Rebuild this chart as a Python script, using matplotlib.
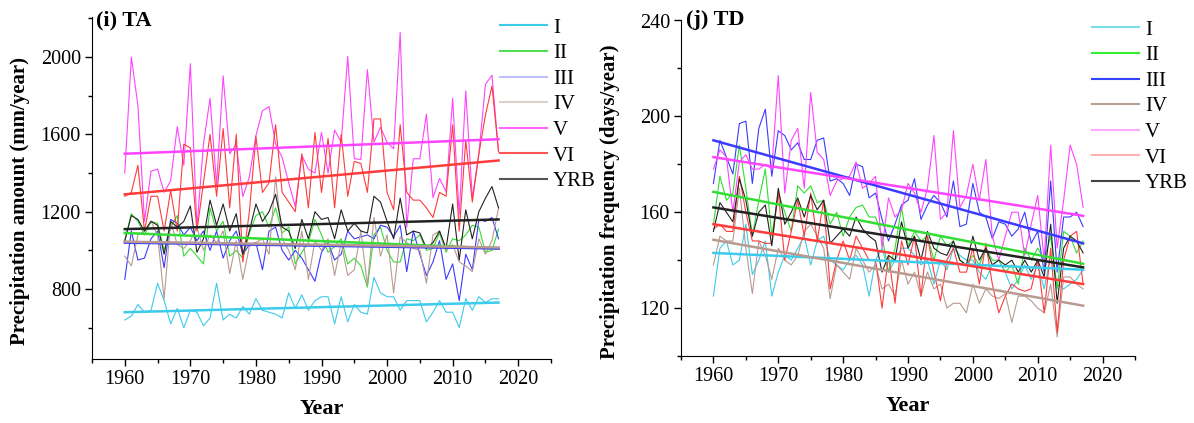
import numpy as np
import matplotlib.pyplot as plt
from matplotlib.lines import Line2D
from matplotlib.ticker import MultipleLocator

plt.rcParams['font.family'] = ['Liberation Serif', 'DejaVu Serif']

years = np.arange(1960, 2018)
regions = ['I', 'II', 'III', 'IV', 'V', 'VI', 'YRB']

# annual precipitation amount (mm/year)
ta_I = [640, 660, 720, 680, 690, 830, 740, 620, 700, 600, 690, 680, 610, 650, 830, 640, 670, 650, 710, 670,
        750, 690, 680, 670, 650, 780, 700, 770, 690, 740, 760, 760, 620, 760, 630, 720, 680, 670, 860, 780,
        760, 760, 690, 740, 740, 740, 630, 680, 740, 680, 680, 600, 750, 690, 760, 730, 750, 750]
ta_II = [1050, 1190, 1150, 1080, 1150, 1140, 1000, 1120, 1180, 970, 1010, 970, 930, 1220, 1100, 1150, 970, 1000,
         960, 1090, 1180, 1200, 1120, 1220, 1090, 1120, 930, 990, 1040, 1160, 1080, 990, 1020, 1060, 930, 960,
         920, 810, 1080, 1120, 1000, 940, 940, 1060, 1050, 1080, 1000, 1010, 1090, 990, 1060, 1050, 1080, 1130,
         1120, 990, 1000, 1110]
ta_III = [850, 1100, 950, 960, 1060, 1100, 910, 1160, 1140, 1080, 1120, 1050, 1100, 1000, 1100, 960, 1050, 1100,
          980, 1030, 1040, 900, 1100, 1120, 1000, 950, 1000, 960, 900, 840, 990, 1040, 950, 980, 1100, 1060,
          1070, 1080, 1060, 1130, 1120, 1070, 1130, 890, 1100, 980, 870, 940, 1050, 850, 930, 740, 980, 900,
          1160, 1150, 1170, 1060]
ta_IV = [970, 920, 1080, 1100, 1150, 1080, 750, 1150, 1030, 1010, 1050, 1120, 1000, 1080, 1040, 1100, 880, 1050,
         850, 1020, 1040, 1060, 980, 1380, 1060, 1000, 900, 1100, 850, 1050, 1000, 1060, 870, 1040, 870, 900,
         1100, 820, 1170, 970, 1080, 780, 1070, 1040, 1010, 1000, 830, 1080, 1100, 1000, 1030, 940, 920, 890,
         1060, 980, 1050, 1220]
ta_V = [1400, 2000, 1750, 1150, 1410, 1420, 1300, 1360, 1640, 1440, 1966, 1116, 1550, 1787, 1338, 1903, 1500,
        1550, 1278, 1380, 1594, 1722, 1744, 1550, 1480, 1350, 1227, 1492, 1420, 1400, 1610, 1400, 1623, 1560,
        2003, 1474, 1470, 1935, 1560, 1637, 1560, 1526, 2128, 1120, 1474, 1474, 1705, 1273, 1372, 1304, 1787,
        1184, 1825, 1270, 1500, 1859, 1906, 1510]
ta_VI = [1280, 1300, 1440, 1100, 1280, 1280, 1100, 1310, 1100, 1550, 1530, 1100, 1350, 1600, 1280, 1630, 1220,
         1600, 940, 1200, 1590, 1300, 1350, 1650, 1300, 1250, 1200, 1500, 1220, 1610, 1300, 1580, 1220, 1600,
         1280, 1460, 1450, 1300, 1680, 1680, 1300, 1210, 1650, 1300, 1260, 1260, 1220, 1170, 1300, 1280, 1650,
         1100, 1570, 1250, 1500, 1700, 1850, 1510]
ta_YRB = [1050, 1180, 1160, 1100, 1150, 1130, 980, 1150, 1120, 1150, 1230, 990, 1060, 1260, 1130, 1240, 1100,
          1190, 980, 1100, 1240, 1150, 1200, 1290, 1120, 1100, 1010, 1160, 1060, 1200, 1160, 1170, 1060, 1210,
          1100, 1140, 1100, 1090, 1280, 1250, 1150, 1060, 1270, 1080, 1100, 1090, 1010, 1040, 1100, 1010, 1240,
          950, 1210, 1060, 1200, 1270, 1330, 1220]
# linear trend values at 1960 and 2017
ta_trend_start = [680, 1090, 1040, 1045, 1500, 1290, 1110]
ta_trend_end = [730, 1010, 1010, 1015, 1575, 1465, 1160]

# annual precipitation frequency (days/year)
td_I = [125, 145, 148, 138, 140, 155, 134, 140, 148, 125, 135, 142, 140, 145, 150, 138, 148, 150, 140, 138,
        136, 140, 142, 138, 125, 140, 145, 135, 140, 145, 145, 142, 138, 140, 130, 140, 136, 145, 142, 140,
        140, 135, 132, 138, 140, 135, 128, 132, 138, 132, 138, 128, 142, 130, 128, 130, 132, 136]
td_II = [155, 175, 165, 168, 188, 170, 150, 165, 178, 150, 168, 160, 152, 171, 168, 171, 164, 165, 155, 160,
         150, 158, 162, 163, 158, 158, 150, 135, 145, 162, 146, 152, 148, 150, 140, 150, 146, 148, 140, 138,
         142, 138, 145, 140, 140, 135, 138, 130, 145, 140, 145, 140, 150, 128, 152, 150, 143, 148]
td_III = [172, 190, 183, 176, 197, 198, 172, 195, 203, 175, 194, 192, 186, 189, 182, 182, 190, 191, 173, 174,
          172, 167, 180, 179, 166, 168, 157, 148, 155, 163, 165, 174, 157, 163, 167, 164, 158, 173, 154, 155,
          172, 160, 158, 149, 156, 155, 150, 153, 160, 147, 152, 135, 173, 135, 158, 158, 160, 154]
td_IV = [138, 150, 148, 148, 170, 145, 126, 148, 142, 132, 145, 140, 138, 142, 152, 155, 150, 145, 124, 138,
         135, 132, 145, 140, 135, 138, 128, 130, 125, 140, 130, 135, 125, 135, 128, 130, 120, 122, 122, 118,
         130, 122, 128, 125, 124, 126, 114, 125, 125, 123, 120, 118, 130, 108, 133, 133, 130, 128]
td_V = [178, 186, 183, 160, 181, 184, 178, 178, 180, 178, 217, 168, 190, 195, 170, 210, 185, 182, 167, 173,
        174, 175, 181, 170, 172, 175, 145, 166, 158, 161, 172, 168, 160, 170, 192, 157, 160, 194, 162, 167,
        180, 165, 182, 150, 140, 150, 160, 160, 142, 155, 167, 140, 188, 145, 165, 188, 180, 162]
td_VI = [153, 155, 152, 152, 175, 160, 148, 148, 147, 147, 168, 140, 152, 165, 150, 168, 148, 165, 128, 140,
         148, 140, 150, 145, 140, 140, 120, 142, 122, 148, 138, 150, 125, 150, 135, 123, 140, 145, 135, 135,
         145, 130, 147, 130, 118, 125, 130, 128, 127, 128, 140, 118, 145, 110, 140, 150, 152, 130]
td_YRB = [152, 164, 160, 156, 174, 165, 150, 160, 163, 146, 170, 155, 160, 166, 158, 167, 161, 165, 147, 150,
          153, 150, 158, 153, 150, 148, 135, 142, 140, 156, 145, 150, 140, 152, 145, 143, 142, 148, 140, 138,
          150, 140, 145, 138, 140, 138, 140, 135, 140, 135, 140, 133, 155, 122, 145, 150, 148, 143]
td_trend_start = [143, 168.5, 190, 148.5, 183, 155, 162]
td_trend_end = [136, 138.5, 147, 121, 158.5, 130, 137]

line_colors = ['#3ccbea', '#33dd33', '#3b3bff', '#b89a90', '#ff44ff', '#ff3b3b', '#222222']
ta_legend_colors = ['#3ccbea', '#55dd55', '#c0c0ff', '#ddd0cc', '#ff66ff', '#ff5555', '#555555']
td_legend_colors = ['#77dde8', '#33ee33', '#3344ff', '#bb9e92', '#ffaaff', '#ffb0b0', '#444444']

W, H = 1194, 423
fig = plt.figure(figsize=(W / 100, H / 100), dpi=100)


def px_axes(x0, y0, x1, y1):
    return fig.add_axes([x0 / W, 1 - y1 / H, (x1 - x0) / W, (y1 - y0) / H])


def panel(ax, series, t0, t1, legend_colors, ylim, major, ylabel, tag, tag_xy, leg_xy):
    for vals, c in zip(series, line_colors):
        ax.plot(years, vals, color=c, lw=0.8)
    for a, b, c in zip(t0, t1, line_colors):
        ax.plot([years[0], years[-1]], [a, b], color=c, lw=1.8)
    ax.set_xlim(1955, 2025)
    ax.set_ylim(*ylim)
    ax.xaxis.set_major_locator(MultipleLocator(10))
    ax.xaxis.set_minor_locator(MultipleLocator(5))
    ax.yaxis.set_major_locator(MultipleLocator(major))
    ax.yaxis.set_minor_locator(MultipleLocator(major / 2))
    ax.set_xticks(range(1960, 2021, 10))
    for s in ('top', 'right'):
        ax.spines[s].set_visible(False)
    ax.tick_params(which='major', length=5, width=1, labelsize=14.5, pad=3)
    ax.tick_params(which='minor', length=3, width=1)
    ax.set_xlabel('Year', fontsize=16, fontweight='bold', labelpad=7)
    ax.set_ylabel(ylabel, fontsize=15, fontweight='bold')
    ax.yaxis.set_label_coords(-0.135, 0.46)
    ax.text(tag_xy[0], tag_xy[1], tag, transform=ax.transAxes, fontsize=16, fontweight='bold',
            va='center', ha='left')
    handles = [Line2D([], [], color=c, lw=1.5) for c in legend_colors]
    fig.legend(handles, regions, loc='upper left', frameon=False, fontsize=15,
               bbox_to_anchor=(leg_xy[0] / W, 1 - leg_xy[1] / H),
               borderpad=0, borderaxespad=0, handlelength=2.25,
               handletextpad=0.3, labelspacing=0.29)


ax1 = px_axes(92, 16.5, 551, 359)
panel(ax1, [ta_I, ta_II, ta_III, ta_IV, ta_V, ta_VI, ta_YRB], ta_trend_start, ta_trend_end,
      ta_legend_colors, (438, 2210), 400, 'Precipitation amount (mm/year)', '(i) TA',
      (0.009, 0.987), (500, 18))

ax2 = px_axes(681, 20.5, 1135, 356)
panel(ax2, [td_I, td_II, td_III, td_IV, td_V, td_VI, td_YRB], td_trend_start, td_trend_end,
      td_legend_colors, (100, 240), 40, 'Precipitation frequency (days/year)', '(j) TD',
      (0.011, 1.0), (1092, 20))

fig.savefig('out.png', dpi=100)
